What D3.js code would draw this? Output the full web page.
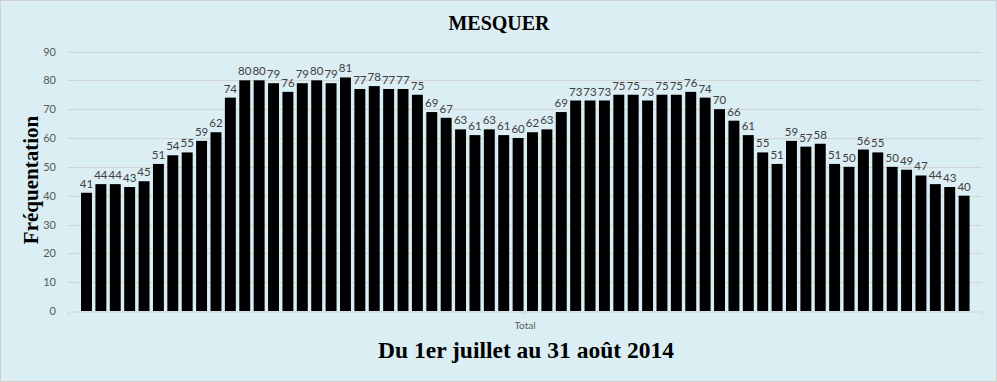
<!DOCTYPE html>
<html>
<head>
<meta charset="utf-8">
<script src="https://cdn.jsdelivr.net/npm/d3@7"></script>
<style>
  html, body { margin: 0; padding: 0; background: #fff; }
  #chart { width: 997px; height: 382px; }
</style>
</head>
<body>
<div id="chart"></div>
<script>
// daily attendance, 1 July -> 31 August 2014
const days = d3.range(1, 63);
const values = [41, 44, 44, 43, 45, 51, 54, 55, 59, 62,
  74, 80, 80, 79, 76, 79, 80, 79, 81, 77,
  78, 77, 77, 75, 69, 67, 63, 61, 63, 61,
  60, 62, 63, 69, 73, 73, 73, 75, 75, 73,
  75, 75, 76, 74, 70, 66, 61, 55, 51, 59,
  57, 58, 51, 50, 56, 55, 50, 49, 47, 44,
  43, 40];
const yTicks = [0, 10, 20, 30, 40, 50, 60, 70, 80, 90];
const groups = ["Total"];

const W = 997, H = 382;
const svg = d3.select("#chart").append("svg")
  .attr("width", W)
  .attr("height", H);

svg.append("rect")
  .attr("x", 0.5).attr("y", 0.5)
  .attr("width", W - 1).attr("height", H - 1)
  .attr("fill", "#daeef3")
  .attr("stroke", "#d0d0d0");

const plot = {left: 68, right: 982, top: 51.5, bottom: 311};

const y = d3.scaleLinear()
  .domain([0, 90])
  .range([plot.bottom, plot.top]);

const outer = d3.scaleBand()
  .domain(groups)
  .range([plot.left, plot.right]);

const x = d3.scaleBand()
  .domain(days)
  .range([79.3, 971.3])
  .paddingInner(0.24)
  .paddingOuter(0.12);

// gridlines
svg.append("g")
  .selectAll("line")
  .data(yTicks.filter(d => d > 0))
  .enter()
  .append("line")
  .attr("x1", plot.left)
  .attr("x2", plot.right)
  .attr("y1", d => Math.round(y(d)) + 0.5)
  .attr("y2", d => Math.round(y(d)) + 0.5)
  .attr("stroke", "#d4d4d4");

// y axis labels
const yAxis = svg.append("g")
  .attr("transform", `translate(${plot.left},0)`)
  .call(d3.axisLeft(y).tickValues(yTicks).tickSize(0).tickPadding(12));
yAxis.select(".domain").remove();
yAxis.selectAll("text")
  .attr("fill", "#595959")
  .style("font-family", "Lato, 'Open Sans', sans-serif")
  .style("font-size", "11px");

// bars
svg.append("g")
  .selectAll("rect")
  .data(values)
  .enter()
  .append("rect")
  .attr("x", (d, i) => x(days[i]))
  .attr("y", d => y(d))
  .attr("width", x.bandwidth())
  .attr("height", d => plot.bottom - y(d))
  .attr("fill", "#000");

// value labels
svg.append("g")
  .selectAll("text")
  .data(values)
  .enter()
  .append("text")
  .attr("x", (d, i) => x(days[i]) + x.bandwidth() / 2)
  .attr("y", d => y(d) - 5)
  .attr("text-anchor", "middle")
  .attr("fill", "#404040")
  .style("font-family", "Lato, 'Open Sans', sans-serif")
  .style("font-size", "11.5px")
  .text(d => d);

// category axis
const xAxis = svg.append("g")
  .attr("transform", `translate(0,${Math.round(plot.bottom) + 0.5})`)
  .call(d3.axisBottom(outer).tickSize(4).tickSizeOuter(4).tickPadding(6));
xAxis.selectAll("line, path").attr("stroke", "#d4d4d4");
xAxis.selectAll("text")
  .attr("fill", "#595959")
  .style("font-family", "Lato, 'Open Sans', sans-serif")
  .style("font-size", "10px");

// titles
svg.append("text")
  .attr("x", 499)
  .attr("y", 30)
  .attr("text-anchor", "middle")
  .style("font-family", "'Liberation Serif', 'Times New Roman', serif")
  .style("font-weight", "bold")
  .style("font-size", "20px")
  .text("MESQUER");

svg.append("text")
  .attr("transform", "translate(38,180) rotate(-90)")
  .attr("text-anchor", "middle")
  .style("font-family", "'Liberation Serif', 'Times New Roman', serif")
  .style("font-weight", "bold")
  .style("font-size", "21px")
  .text("Fréquentation");

svg.append("text")
  .attr("x", 526)
  .attr("y", 358)
  .attr("text-anchor", "middle")
  .style("font-family", "'Liberation Serif', 'Times New Roman', serif")
  .style("font-weight", "bold")
  .style("font-size", "23.5px")
  .text("Du 1er juillet au 31 août 2014");
</script>
</body>
</html>
